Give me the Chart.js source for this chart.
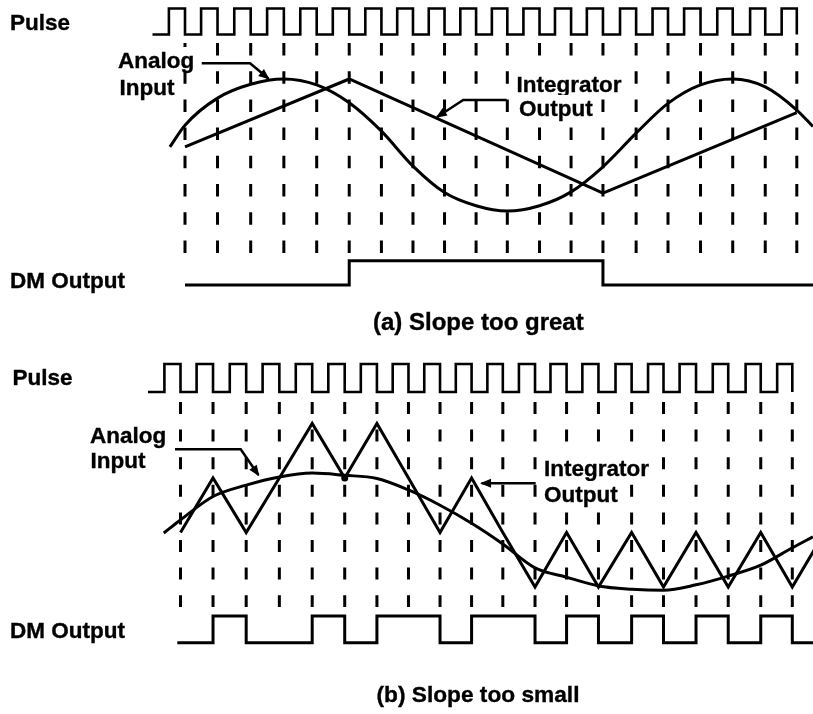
<!DOCTYPE html>
<html><head><meta charset="utf-8">
<script src="https://cdn.jsdelivr.net/npm/chart.js@4.4.1/dist/chart.umd.min.js"></script>
<style>
html,body{margin:0;padding:0;background:#fff;}
#wrap{position:relative;width:813px;height:714px;overflow:hidden;background:#fff;}
#wrap canvas{position:absolute;left:0;}
.lbl{position:absolute;font-family:"Liberation Sans",Arial,Helvetica,sans-serif;font-weight:bold;color:#000;white-space:nowrap;line-height:1;-webkit-text-stroke:0.35px #000;background:#fff;padding-top:3px;}
</style></head><body>
<div id="wrap">
<canvas id="cA" width="813" height="357" style="top:0px"></canvas>
<canvas id="cB" width="813" height="357" style="top:357px"></canvas>
</div>
<script>
// ================= DATA (time in clock periods) =================
const clockTicks = [0, 1.01, 2.04, 3.07, 4.09, 5.10, 6.10, 7.08, 8.06, 9.04, 10.01, 11.01, 11.99, 12.98, 14.01, 15.00, 16.01, 17.01, 18.02, 19.00];
const pulseRise  = [-0.50, 0.50, 1.53, 2.55, 3.58, 4.59, 5.60, 6.59, 7.57, 8.55, 9.53, 10.51, 11.49, 12.48, 13.51, 14.52, 15.50, 16.53, 17.55, 18.53];
const pulseStart = -1.01;
const pulseLevels = [0, 1];            // low, high
const signalEnd = 21;

// (a) Slope too great
const analogA      = [0.30, 0.71, 0.92, 1.00, 0.91, 0.64, 0.21, -0.32, -0.72, -0.92, -1.00, -0.92, -0.71, -0.33, 0.18, 0.63, 0.91, 1.00, 0.88, 0.53];
const analogALead  = [-0.47, -0.03];
const analogATail  = [19.5, 0.28];
const integratorATicks = [0, 5, 13, 19];
const integratorA  = [-0.03, 1.00, -0.73, 0.49];
const dmA          = [0,0,0,0,0,1,1,1,1,1,1,1,1,0,0,0,0,0,0,0];
const dmAStart     = 0;

// (b) Slope too small (integrator in step units)
const analogB      = [0.23, 0.66, 0.87, 1.02, 1.09, 1.05, 0.99, 0.78, 0.50, 0.17, -0.21, -0.65, -0.82, -0.98, -1.04, -1.06, -0.96, -0.80, -0.60, -0.28];
const analogBLead  = [-0.52, -0.01];
const analogBTail  = [19.64, -0.08];
const integratorB  = [0,1,0,1,2,1,2,1,0,1,0,-1,0,-1,0,-1,0,-1,0,-1];
const integratorBTail = [20, 0];
const touchIndexB  = 5;
const dmB          = [0,1,0,0,1,0,1,1,0,1,1,0,1,0,1,0,1,0,1,0];
const dmBStart     = -0.1;

// ================= LAYOUT =================
const W = 813, H = 357, PX_PER_TICK = 32.2;
const layoutA = { x0: 185,   pulse: [34.5, 8.5], sig: [145, 79],     dm: [285, 260.7],  grid: [253, 43], dash: [12.5, 15.7] };
const layoutB = { x0: 180.5, pulse: [35, 7],     sig: [175.5, 121],  dm: [285.7, 259],  grid: [250, 45], dash: [12.0, 15.6] };
const arrowsA = [
  [[0.52, 1.238], [2.02, 1.238], [2.59, 1.008]],
  [[9.99, 0.682], [8.64, 0.682], [7.83, 0.424]]
];
const arrowsB = [
  [[-0.17, 1.527], [1.87, 1.527], [2.42, 1.055]],
  [[11.03, 0.903], [9.35, 0.903]]
];
const textLayout = [
  ["Pulse", 10, 31, 22.5],
  ["Analog", 118, 69, 22.5],
  ["Input", 119.5, 96.3, 22.5],
  ["Integrator", 516.5, 93.5, 22.5],
  ["Output", 519, 117.5, 22.5],
  ["DM Output", 10, 289.4, 22.5],
  ["(a) Slope too great", 373, 330, 24],
  ["Pulse", 12.5, 386, 22.5],
  ["Analog", 90, 444, 22.5],
  ["Input", 90.5, 469.4, 22.5],
  ["Integrator", 544, 477.5, 22.5],
  ["Output", 544, 502.6, 22.5],
  ["DM Output", 10, 639.4, 22.5],
  ["(b) Slope too small", 376.5, 702, 22.7]
];

// ================= BUILD =================
function placeY(p) { const k = p[0] - p[1]; const max = 1 + p[1] / k; return { min: max - H / k, max: max }; }

const arrowHeads = {
  id: 'arrowHeads',
  afterDatasetsDraw(chart) {
    const ctx = chart.ctx;
    chart.data.datasets.forEach((ds, i) => {
      if (!ds.arrowHead) return;
      const pts = chart.getDatasetMeta(i).data;
      const a = pts[pts.length - 2], b = pts[pts.length - 1];
      const ang = Math.atan2(b.y - a.y, b.x - a.x);
      const L = ds.arrowHead[0], w = ds.arrowHead[1] / 2;
      const tx = b.x + 1.5 * Math.cos(ang), ty = b.y + 1.5 * Math.sin(ang);
      const bx = tx - L * Math.cos(ang), by = ty - L * Math.sin(ang);
      ctx.save();
      ctx.fillStyle = '#000';
      ctx.beginPath();
      ctx.moveTo(tx, ty);
      ctx.lineTo(bx + w * Math.sin(ang), by - w * Math.cos(ang));
      ctx.lineTo(bx - w * Math.sin(ang), by + w * Math.cos(ang));
      ctx.closePath();
      ctx.fill();
      ctx.restore();
    });
  }
};

function buildPanel(canvasId, L, P) {
  const datasets = [];
  // dashed clock lines
  clockTicks.forEach(t => datasets.push({
    data: [{x: t, y: 1}, {x: t, y: 0}], yAxisID: 'yGrid',
    borderColor: '#000', borderWidth: 3, borderDash: L.dash, pointRadius: 0
  }));
  // pulse
  const pulsePts = [{x: pulseStart, y: pulseLevels[0]}];
  clockTicks.forEach((t, k) => {
    pulsePts.push({x: pulseRise[k], y: pulseLevels[1]});
    pulsePts.push({x: t, y: pulseLevels[0]});
  });
  datasets.push({ data: pulsePts, yAxisID: 'yPulse', stepped: 'before', borderColor: '#000', borderWidth: 2.6, pointRadius: 0 });
  // analog input
  const an = [{x: P.lead[0], y: P.lead[1]}]
    .concat(clockTicks.map((t, i) => ({x: t, y: P.analog[i]})))
    .concat([{x: P.tail[0], y: P.tail[1]}]);
  datasets.push({ data: an, yAxisID: 'ySig', cubicInterpolationMode: 'monotone', borderColor: '#000', borderWidth: 3, pointRadius: 0 });
  // integrator output
  datasets.push({ data: P.integ, yAxisID: 'ySig', tension: 0, borderColor: '#000', borderWidth: 3,
    pointRadius: ctx => (P.touch !== null && ctx.dataIndex === P.touch) ? 3.5 : 0,
    pointBackgroundColor: '#000', pointBorderWidth: 0 });
  // DM output
  const dmPts = [{x: P.dmStart, y: P.dm[0]}]
    .concat(clockTicks.slice(1).map((t, i) => ({x: t, y: P.dm[i + 1]})))
    .concat([{x: signalEnd, y: P.dm[P.dm.length - 1]}]);
  datasets.push({ data: dmPts, yAxisID: 'yDM', stepped: 'before', borderColor: '#000', borderWidth: 3, pointRadius: 0 });
  // arrows
  P.arrows.forEach(arr => datasets.push({
    data: arr.map(p => ({x: p[0], y: p[1]})), yAxisID: 'ySig', tension: 0,
    borderColor: '#000', borderWidth: 2.5, pointRadius: 0, arrowHead: [11, 9]
  }));

  const xmin = -L.x0 / PX_PER_TICK;
  return new Chart(document.getElementById(canvasId), {
    type: 'line',
    data: { datasets },
    options: {
      responsive: false, maintainAspectRatio: false, devicePixelRatio: 1,
      animation: false, events: [],
      layout: { padding: 0 },
      plugins: { legend: { display: false }, tooltip: { enabled: false }, title: { display: false } },
      elements: { line: { fill: false, borderJoinStyle: 'miter', borderCapStyle: 'butt' } },
      scales: {
        x:      { type: 'linear', display: false, min: xmin, max: xmin + W / PX_PER_TICK },
        yPulse: Object.assign({ type: 'linear', display: false, position: 'left' }, placeY(L.pulse)),
        ySig:   Object.assign({ type: 'linear', display: false, position: 'left' }, placeY(L.sig)),
        yDM:    Object.assign({ type: 'linear', display: false, position: 'left' }, placeY(L.dm)),
        yGrid:  Object.assign({ type: 'linear', display: false, position: 'left' }, placeY(L.grid))
      }
    },
    plugins: [arrowHeads]
  });
}

buildPanel('cA', layoutA, {
  analog: analogA, lead: analogALead, tail: analogATail,
  integ: integratorATicks.map((idx, k) => ({x: clockTicks[idx], y: integratorA[k]})),
  touch: null, dm: dmA, dmStart: dmAStart, arrows: arrowsA
});
buildPanel('cB', layoutB, {
  analog: analogB, lead: analogBLead, tail: analogBTail,
  integ: clockTicks.map((t, i) => ({x: t, y: integratorB[i]})).concat([{x: integratorBTail[0], y: integratorBTail[1]}]),
  touch: touchIndexB, dm: dmB, dmStart: dmBStart, arrows: arrowsB
});

// text labels (white box hides the dashes behind the words, as in the reference)
const wrap = document.getElementById('wrap');
textLayout.forEach(([txt, x, base, size]) => {
  const d = document.createElement('div');
  d.className = 'lbl';
  d.textContent = txt;
  d.style.fontSize = size + 'px';
  d.style.left = x + 'px';
  d.style.top = (base - 0.8465 * size - 3) + 'px';
  wrap.appendChild(d);
});
</script>
</body></html>
